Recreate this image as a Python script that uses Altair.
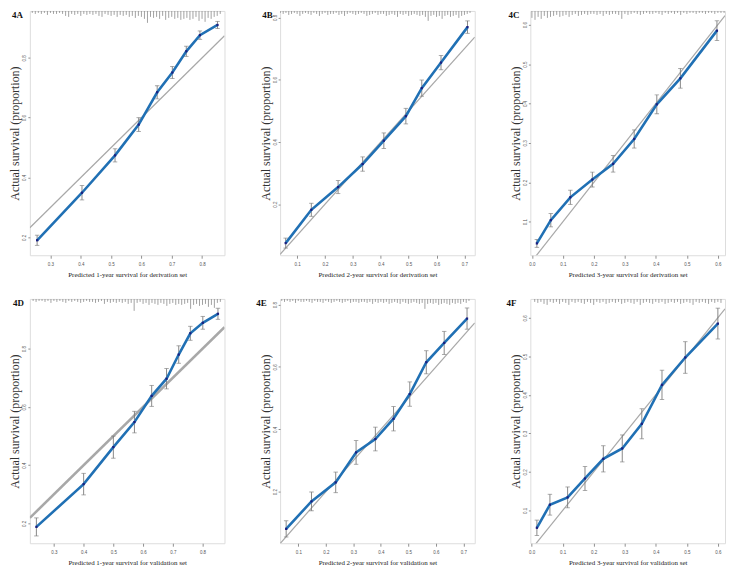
import altair as alt
import pandas as pd

# ---------------- data ----------------
labels = ["4A", "4B", "4C", "4D", "4E", "4F"]
xtitles = [
    "Predicted 1-year survival for derivation set",
    "Predicted 2-year survival for derivation set",
    "Predicted 3-year survival for derivation set",
    "Predicted 1-year survival for validation set",
    "Predicted 2-year survival for validation set",
    "Predicted 3-year survival for validation set",
]
ytitle = "Actual survival (proportion)"

xs_A = [0.256, 0.404, 0.513, 0.591, 0.652, 0.702, 0.748, 0.793, 0.851]
ys_A = [0.190, 0.349, 0.474, 0.577, 0.685, 0.751, 0.822, 0.876, 0.910]
er_A = [0.017, 0.024, 0.022, 0.023, 0.022, 0.020, 0.017, 0.014, 0.012]

xs_B = [0.059, 0.151, 0.247, 0.335, 0.411, 0.490, 0.547, 0.616, 0.711]
ys_B = [0.075, 0.182, 0.255, 0.329, 0.404, 0.483, 0.573, 0.655, 0.769]
er_B = [0.016, 0.021, 0.021, 0.023, 0.025, 0.025, 0.026, 0.023, 0.020]

xs_C = [0.016, 0.061, 0.124, 0.195, 0.262, 0.330, 0.403, 0.479, 0.597]
ys_C = [0.045, 0.104, 0.162, 0.207, 0.247, 0.310, 0.398, 0.464, 0.585]
er_C = [0.010, 0.017, 0.018, 0.019, 0.021, 0.023, 0.024, 0.025, 0.025]

xs_D = [0.241, 0.400, 0.500, 0.571, 0.629, 0.679, 0.720, 0.759, 0.801, 0.852]
ys_D = [0.188, 0.335, 0.462, 0.548, 0.638, 0.697, 0.780, 0.853, 0.889, 0.920]
er_D = [0.031, 0.037, 0.038, 0.037, 0.036, 0.035, 0.030, 0.024, 0.022, 0.019]

xs_E = [0.056, 0.148, 0.236, 0.310, 0.380, 0.446, 0.505, 0.565, 0.630, 0.713]
ys_E = [0.081, 0.169, 0.230, 0.326, 0.369, 0.434, 0.513, 0.615, 0.677, 0.755]
er_E = [0.026, 0.030, 0.033, 0.038, 0.038, 0.039, 0.039, 0.037, 0.037, 0.034]

xs_F = [0.017, 0.059, 0.116, 0.172, 0.231, 0.292, 0.355, 0.420, 0.495, 0.600]
ys_F = [0.055, 0.115, 0.134, 0.183, 0.234, 0.261, 0.325, 0.426, 0.497, 0.585]
er_F = [0.020, 0.027, 0.027, 0.031, 0.034, 0.035, 0.039, 0.038, 0.041, 0.040]

xdoms = [[0.232, 0.874], [0.039, 0.737], [-0.005, 0.623],
         [0.219, 0.874], [0.034, 0.741], [-0.004, 0.623]]
ydoms = [[0.140, 0.957], [0.036, 0.821], [0.015, 0.635],
         [0.132, 0.971], [0.035, 0.818], [0.015, 0.649]]
xticks = [[0.3, 0.4, 0.5, 0.6, 0.7, 0.8],
          [0.1, 0.2, 0.3, 0.4, 0.5, 0.6, 0.7],
          [0.0, 0.1, 0.2, 0.3, 0.4, 0.5, 0.6],
          [0.3, 0.4, 0.5, 0.6, 0.7, 0.8],
          [0.1, 0.2, 0.3, 0.4, 0.5, 0.6, 0.7],
          [0.0, 0.1, 0.2, 0.3, 0.4, 0.5, 0.6]]
yticks = [[0.2, 0.4, 0.6, 0.8],
          [0.2, 0.4, 0.6, 0.8],
          [0.1, 0.2, 0.3, 0.4, 0.5, 0.6],
          [0.2, 0.4, 0.6, 0.8],
          [0.2, 0.4, 0.6, 0.8],
          [0.1, 0.2, 0.3, 0.4, 0.5, 0.6]]

# rug (histogram of predictions along the top): first bin, bin step, tick lengths
rug_start = [0.24, 0.04, 0.00, 0.23, 0.04, 0.01]
rug_step = 0.01
rug_A = [2,3,2,3,2,4,2,3,3,2, 3,5,6,3,4,3,5,3,4,3, 4,3,5,6,3,4,5,4,6,4,
         5,4,6,5,7,5,6,8,12,6, 7,6,8,5,9,7,6,8,7,9, 8,7,9,8,6,10,8,11,7,8, 6,5,3]
rug_B = [2,3,2,4,3,2,3,5,3,2, 3,4,2,3,5,3,2,4,3,3, 2,4,3,5,3,2,3,4,3,2,
         3,5,4,3,2,4,3,3,5,4, 3,4,6,3,4,3,5,4,3,4, 5,4,6,10,5,4,6,5,8,5,
         4,6,5,4,7,5,4,3,2]
rug_C = [7,9,6,8,5,7,6,5,4,6, 5,4,6,4,3,5,4,3,4,3, 3,4,3,5,3,4,3,3,4,8,
         3,4,3,2,3,4,3,2,3,3, 2,3,4,2,3,2,3,2,4,2, 3,2,2,3,2,2,3,2,2,3, 2,2,2]
rug_D = [2,3,2,2,3,2,4,2,3,2, 3,4,2,3,2,3,4,3,2,3, 3,4,3,2,5,3,4,3,4,3,
         4,3,5,4,12,4,3,5,4,6, 4,5,6,4,5,7,5,4,6,5, 6,5,4,10,6,5,7,6,5,8, 6,9,4,3]
rug_E = [2,3,2,3,2,4,2,3,3,2, 3,4,2,3,3,4,2,3,4,3, 2,3,4,3,2,4,3,3,4,3,
         3,4,3,5,3,4,3,4,3,5, 4,3,4,5,3,4,5,4,3,4, 5,4,10,5,4,5,4,6,5,4,
         5,6,4,5,4,5,3,4,2]
rug_F = [3,4,3,5,6,3,4,3,5,3, 4,6,3,4,3,4,5,3,4,6, 3,4,3,5,4,3,4,3,5,4,
         3,4,5,3,6,4,3,4,5,3, 4,3,5,4,3,4,3,5,4,3, 4,6,3,4,3,4,5,3,4,3, 4]

series = [(xs_A, ys_A, er_A, rug_A), (xs_B, ys_B, er_B, rug_B),
          (xs_C, ys_C, er_C, rug_C), (xs_D, ys_D, er_D, rug_D),
          (xs_E, ys_E, er_E, rug_E), (xs_F, ys_F, er_F, rug_F)]
diag_widths = [1.2, 1.2, 1.2, 2.6, 1.2, 1.2]
label_dx = [-18, -18, -22, -17, -24, -24]

# ---------------- styling ----------------
W, H = 196, 246
SERIF = "Liberation Serif"
FRAME = "#8f8f8f"


def panel(i):
    xs, ys, er, rug = series[i]
    xd, yd = xdoms[i], ydoms[i]
    xsc = alt.Scale(domain=xd, nice=False, zero=False)
    ysc = alt.Scale(domain=yd, nice=False, zero=False)
    xax = alt.Axis(values=xticks[i], format=".1f", title=xtitles[i], grid=False,
                   domain=False, tickSize=3, tickColor=FRAME, labelPadding=3,
                   labelFont="Liberation Sans", labelFontSize=4.5, labelColor="#555555",
                   titleFont=SERIF, titleFontSize=7, titleFontWeight="normal",
                   titleColor="#222222", titlePadding=5, labelOverlap=False, labelFlush=False)
    yax = alt.Axis(values=yticks[i], format=".1f", title=ytitle, grid=False,
                   domain=False, tickSize=2, tickColor=FRAME, labelPadding=1,
                   labelAngle=270, labelAlign="center", labelBaseline="bottom",
                   labelFont="Liberation Sans", labelFontSize=4.5, labelColor="#555555",
                   titleFont=SERIF, titleFontSize=12, titleFontWeight="normal",
                   titleColor="#333333", titlePadding=0, labelOverlap=False, labelFlush=False)

    def X(f):
        return alt.X(f, type="quantitative", scale=xsc, axis=xax)

    def Y(f):
        return alt.Y(f, type="quantitative", scale=ysc, axis=yax)

    pts = pd.DataFrame({"x": xs, "y": ys,
                        "lo": [y - e for y, e in zip(ys, er)],
                        "hi": [y + e for y, e in zip(ys, er)],
                        "o": list(range(len(xs)))})
    diag = pd.DataFrame({"x": xd, "y": xd})
    unit = (yd[1] - yd[0]) / H
    rugdf = pd.DataFrame({"x": [rug_start[i] + k * rug_step for k in range(len(rug))],
                          "y": [yd[1]] * len(rug),
                          "y2": [yd[1] - h * unit for h in rug]})

    diag_l = alt.Chart(diag).mark_line(color="#a8a8a8", strokeWidth=diag_widths[i],
                                       clip=True).encode(x=X("x"), y=Y("y"))
    rug_l = alt.Chart(rugdf).mark_rule(color="#8a8a8a", strokeWidth=0.8,
                                       clip=True).encode(x=X("x"), y=Y("y"), y2="y2")
    bar_l = alt.Chart(pts).mark_rule(color="#7a7a7a", strokeWidth=0.9).encode(
        x=X("x"), y=Y("lo"), y2="hi")
    caplo = alt.Chart(pts).mark_tick(orient="horizontal", color="#7a7a7a", size=4.5,
                                     thickness=0.9).encode(x=X("x"), y=Y("lo"))
    caphi = alt.Chart(pts).mark_tick(orient="horizontal", color="#7a7a7a", size=4.5,
                                     thickness=0.9).encode(x=X("x"), y=Y("hi"))
    line_l = alt.Chart(pts).mark_line(color="#2070b4", strokeWidth=2.6).encode(
        x=X("x"), y=Y("y"), order="o")
    pt_l = alt.Chart(pts).mark_square(color="#1b1f80", size=5, opacity=1).encode(
        x=X("x"), y=Y("y"))
    lab = alt.Chart(pd.DataFrame({"t": [labels[i]]})).mark_text(
        font=SERIF, fontSize=9, fontWeight="bold", align="left",
        baseline="alphabetic", color="#111111").encode(
        x=alt.value(label_dx[i]), y=alt.value(7), text="t:N")

    return alt.layer(diag_l, rug_l, bar_l, caplo, caphi, line_l, pt_l, lab).properties(
        width=W, height=H)


chart = alt.concat(*[panel(i) for i in range(6)], columns=3, bounds="flush",
                   spacing={"row": 44, "column": 56}).properties(
    padding={"left": 0, "top": 0, "right": 0, "bottom": 0}
).configure_view(stroke=FRAME, strokeWidth=1).configure(background="white")

chart.save("out.html", embed_options={"renderer": "svg", "actions": False})
